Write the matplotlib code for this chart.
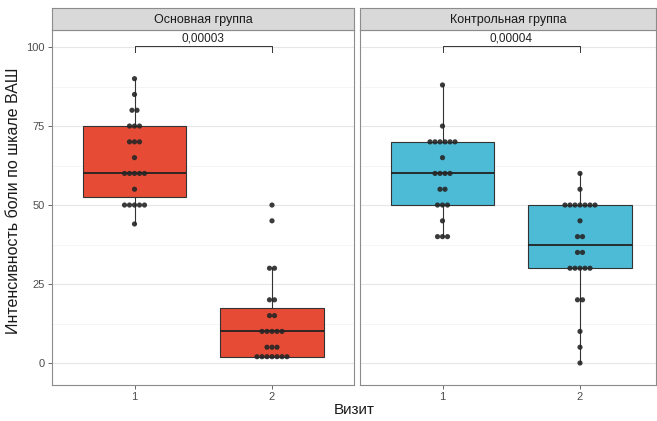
import numpy as np
import matplotlib
matplotlib.use("Agg")
from matplotlib import pyplot as plt

plt.rcParams['font.family'] = ['Liberation Sans', 'DejaVu Sans']

groups = ["Основная группа", "Контрольная группа"]
visits = ["1", "2"]
colors = ["#E64B35", "#4DBBD5"]
pvalues = ["0,00003", "0,00004"]

main_v1 = [44, 50, 50, 50, 50, 50, 55, 60, 60, 60, 60, 60, 65, 70, 70, 70, 75, 75, 75, 80, 80, 85, 90]
main_v2 = [2, 2, 2, 2, 2, 2, 2, 5, 5, 5, 10, 10, 10, 10, 10, 15, 15, 20, 20, 30, 30, 45, 50]
ctrl_v1 = [40, 40, 40, 45, 50, 50, 50, 55, 55, 60, 60, 60, 60, 65, 70, 70, 70, 70, 70, 70, 75, 88]
ctrl_v2 = [0, 5, 10, 20, 20, 30, 30, 30, 30, 30, 35, 35, 40, 40, 45, 50, 50, 50, 50, 50, 50, 50, 55, 60]
data = [[main_v1, main_v2], [ctrl_v1, ctrl_v2]]

yticks = [0, 25, 50, 75, 100]

W, H = 657, 421
fig = plt.figure(figsize=(W / 100, H / 100), dpi=100)

def rect(x0, y0, x1, y1):
    return [x0 / W, 1 - y1 / H, (x1 - x0) / W, (y1 - y0) / H]

panels = [(52, 354), (360, 656)]
pxu = 137.5  # pixels per category unit
dot_w = 5.0 / pxu

for g, (x0, x1) in enumerate(panels):
    ax = fig.add_axes(rect(x0, 30, x1, 385))
    ax.set_xlim(0.4, 0.4 + (x1 - x0) / pxu)
    ax.set_ylim(-6.96, 105.4)
    ax.set_facecolor("white")
    for y in np.arange(0, 101, 25):
        ax.axhline(y, color="#E6E6E6", lw=0.8, zorder=0)
    for y in np.arange(12.5, 101, 25):
        ax.axhline(y, color="#F2F2F2", lw=0.5, zorder=0)

    bp = ax.boxplot(data[g], positions=[1, 2], widths=0.75, patch_artist=True,
                    showfliers=False, showcaps=False, whis=1.5,
                    medianprops=dict(color="#222222", lw=1.3),
                    whiskerprops=dict(color="#333333", lw=0.8),
                    boxprops=dict(edgecolor="#333333", lw=0.8))
    for b in bp["boxes"]:
        b.set_facecolor(colors[g])

    # centred dot stacks
    for i, vals in enumerate(data[g]):
        uv, cnt = np.unique(vals, return_counts=True)
        for v, c in zip(uv, cnt):
            xs = (i + 1) + (np.arange(c) - (c - 1) / 2) * dot_w
            ax.scatter(xs, [v] * c, s=14, color="#262626", alpha=0.9,
                       edgecolors="none", zorder=3)

    # significance bracket
    ax.plot([1, 1, 2, 2], [98.4, 100.3, 100.3, 98.4], color="#333333", lw=0.7, zorder=3)
    ax.text(1.5, 102.6, pvalues[g], ha="center", va="center", fontsize=8.5, color="#222222")

    ax.set_xticks([1, 2])
    ax.set_xticklabels(visits)
    ax.set_yticks(yticks)
    ax.tick_params(colors="#4D4D4D", labelsize=8, length=3, width=0.6, pad=2)
    if g == 0:
        ax.set_yticklabels([str(t) for t in yticks])
    else:
        ax.set_yticklabels([])
        ax.tick_params(axis="y", length=0)
    for s in ax.spines.values():
        s.set_color("#8C8C8C")
        s.set_linewidth(0.8)

    sax = fig.add_axes(rect(x0, 8, x1, 30))
    sax.set_facecolor("#D9D9D9")
    sax.set_xticks([])
    sax.set_yticks([])
    for s in sax.spines.values():
        s.set_color("#8C8C8C")
        s.set_linewidth(0.8)
    sax.text(0.5, 0.45, groups[g], ha="center", va="center", fontsize=9,
             color="#1A1A1A", transform=sax.transAxes)

fig.text(354 / W, 1 - 410 / H, "Визит", ha="center", va="center", fontsize=11, color="#1A1A1A")
fig.text(14 / W, 1 - 201 / H, "Интенсивность боли по шкале ВАШ", ha="center", va="center",
         rotation=90, fontsize=11.5, color="#1A1A1A")

fig.savefig("out.png", dpi=100)
